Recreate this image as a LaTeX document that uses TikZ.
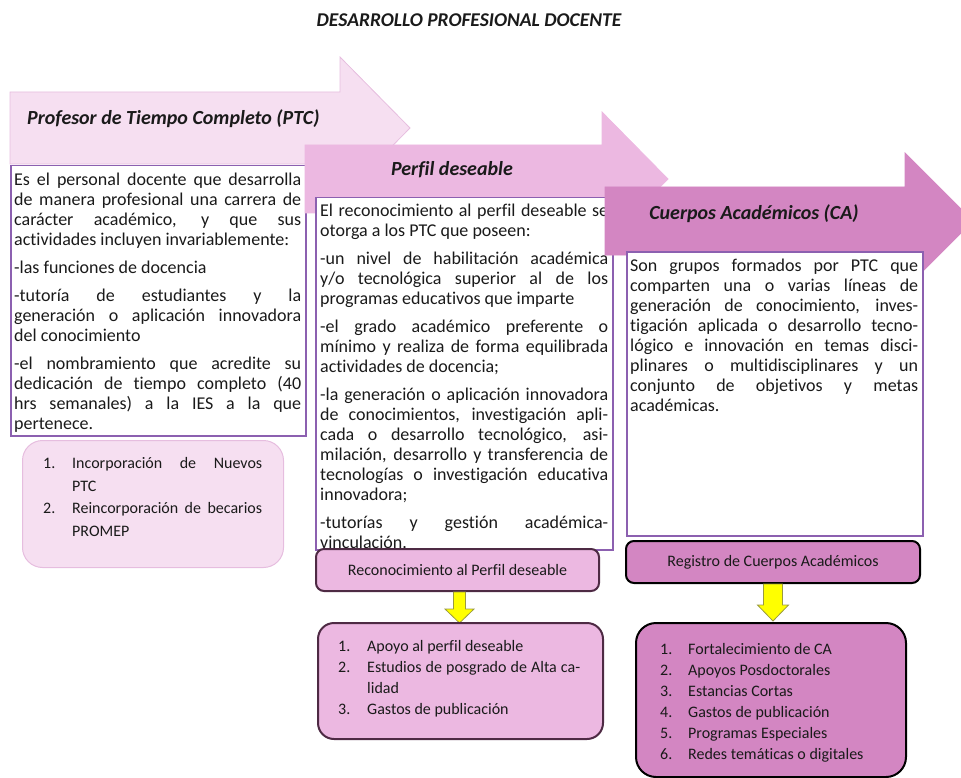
\documentclass[tikz,border=0pt]{standalone}
\usepackage{fontspec}
\setmainfont{Carlito}[RawFeature={-liga;-clig;-calt;-dlig}]
\usetikzlibrary{calc}
\definecolor{pinkA}{HTML}{F6DFF1}
\definecolor{pinkAb}{HTML}{E6BDDF}
\definecolor{pinkB}{HTML}{ECB8E1}
\definecolor{pinkC}{HTML}{D386C2}
\definecolor{boxline}{HTML}{8C60B0}
\definecolor{plum}{HTML}{4E2A44}
\definecolor{ylw}{HTML}{FFFF00}
\definecolor{ylwb}{HTML}{9A9A40}
\definecolor{txt}{HTML}{1A1A1A}
\newcommand\mylitem[2]{\par\hangindent=#1\hangafter=1\noindent\makebox[#1][l]{#2}}
\begin{document}
\begin{tikzpicture}[x=1pt,y=-1pt,
  hdr/.style={font=\fontsize{20pt}{24pt}\selectfont\bfseries\itshape, text=txt, inner sep=0pt},
  frame/.style={draw=boxline, line width=1.5pt, fill=white, inner sep=0pt, anchor=north west},
  body/.style={text width=#1, align=justify, inner sep=0pt, anchor=north west, text=txt,
    font=\fontsize{18pt}{20pt}\selectfont,
    execute at begin node={\setlength{\parskip}{8pt}\setlength{\parindent}{0pt}\tolerance=10000\hbadness=10000\hyphenpenalty=10000}},
  listtext/.style={text width=#1, align=justify, inner sep=0pt, anchor=north west, text=txt,
    font=\fontsize{16pt}{21pt}\selectfont,
    execute at begin node={\setlength{\parskip}{0pt}\setlength{\parindent}{0pt}\tolerance=10000\hbadness=10000\hyphenpenalty=10000}},
  bigarrow/.style={line width=0.8pt},
  smallbox/.style={rounded corners=8pt, line width=2pt, inner sep=0pt, anchor=north west, text=txt, font=\fontsize{16pt}{19pt}\selectfont},
  listbox/.style={line width=2pt, inner sep=0pt, anchor=north west},
  yarrow/.style={fill=ylw, draw=ylwb, line width=0.8pt}
]
\useasboundingbox (0,0) rectangle (961,778);

% title
\node[font=\fontsize{19.5pt}{24pt}\selectfont\bfseries\itshape, text=txt, inner sep=0pt] (title) at (469,20) {DESARROLLO PROFESIONAL DOCENTE};

% arrow 1
\draw[bigarrow, fill=pinkA, draw=pinkAb] (10,92) -- (340,92) -- (340,57) -- (410,128) -- (340,199) -- (340,164) -- (10,164) -- cycle;
\node[hdr, anchor=west] (h1) at (27,119) {Profesor de Tiempo Completo (PTC)};

% box 1
\node[frame, minimum width=295pt, minimum height=270pt] (b1) at (10,165) {};
\node[body=287pt] (t1) at (14,173) {Es el personal docente que desarrolla\linebreak de manera profesional una carrera de\linebreak carácter académico, y que sus\linebreak actividades incluyen invariablemente:\par
-las funciones de docencia\par
-tutoría de estudiantes y la\linebreak generación o aplicación innovadora\linebreak del conocimiento\par
-el nombramiento que acredite su\linebreak dedicación de tiempo completo (40\linebreak hrs semanales) a la IES a la que\linebreak pertenece.\par};

% list 1
\node[listbox, draw=pinkAb, fill=pinkA, line width=1pt, rounded corners=20pt, minimum width=261pt, minimum height=127pt] (l1) at (22,440) {};
\node[listtext=219pt, font=\fontsize{16pt}{22.5pt}\selectfont] (lt1) at (43,446) {\mylitem{29pt}{1.}Incorporación de Nuevos\linebreak PTC\mylitem{29pt}{2.}Reincorporación de becarios\linebreak PROMEP\par};

% arrow 2
\draw[bigarrow, fill=pinkB, draw=pinkB] (305,145) -- (602,145) -- (602,112) -- (668,179) -- (602,246) -- (602,213) -- (305,213) -- cycle;
\node[hdr] (h2) at (452,170) {Perfil deseable};

% box 2
\node[frame, minimum width=297pt, minimum height=352pt] (b2) at (315,197) {};
\node[body=288pt] (t2) at (320,204) {El reconocimiento al perfil deseable se\linebreak otorga a los PTC que poseen:\par
-un nivel de habilitación académica\linebreak y/o tecnológica superior al de los\linebreak programas educativos que imparte\par
-el grado académico preferente o\linebreak mínimo y realiza de forma equilibrada\linebreak actividades de docencia;\par
-la generación o aplicación innovadora\linebreak de conocimientos, investigación apli-\linebreak cada o desarrollo tecnológico, asi-\linebreak milación, desarrollo y transferencia de\linebreak tecnologías o investigación educativa\linebreak innovadora;\par
-tutorías y gestión académica-\linebreak vinculación.\par};

% arrow 3
\draw[bigarrow, fill=pinkC, draw=pinkC] (605,187) -- (905,187) -- (905,153) -- (973,221) -- (905,289) -- (905,255) -- (605,255) -- cycle;
\node[hdr] (h3) at (754,214) {Cuerpos Académicos (CA)};

% box 3
\node[frame, minimum width=296pt, minimum height=284pt] (b3) at (626,251) {};
\node[body=288pt] (t3) at (630,259) {Son grupos formados por PTC que\linebreak comparten una o varias líneas de\linebreak generación de conocimiento, inves-\linebreak tigación aplicada o desarrollo tecno-\linebreak lógico e innovación en temas disci-\linebreak plinares o multidisciplinares y un\linebreak conjunto de objetivos y metas\linebreak académicas.\par};

% reconocimiento
\node[smallbox, draw=plum, fill=pinkB, minimum width=283pt, minimum height=42pt] (reco) at (315,548) {Reconocimiento al Perfil deseable};
\draw[yarrow] ($(reco.south)+(-4,0)$) -- ++(12,0) -- ++(0,17) -- ++(8.5,0) -- ++(-14.5,14) -- ++(-14.5,-14) -- ++(8.5,0) -- cycle;
\node[listbox, draw=plum, fill=pinkB, rounded corners=16pt, minimum width=285pt, minimum height=116pt] (l2) at (317,622) {};
\node[listtext=242pt] (lt2) at (338,630) {\mylitem{29pt}{1.}Apoyo al perfil deseable\mylitem{29pt}{2.}Estudios de posgrado de Alta ca-\linebreak lidad\mylitem{29pt}{3.}Gastos de publicación\par};

% registro
\node[smallbox, draw=black, fill=pinkC, minimum width=294pt, minimum height=42pt] (reg) at (625,540) {Registro de Cuerpos Académicos};
\draw[yarrow] ($(reg.south)+(-9.5,0)$) -- ++(19,0) -- ++(0,21) -- ++(6,0) -- ++(-15.5,16) -- ++(-15.5,-16) -- ++(6,0) -- cycle;
\node[listbox, draw=black, fill=pinkC, rounded corners=20pt, minimum width=270pt, minimum height=154pt] (l3) at (635,622) {};
\node[listtext=240pt] (lt3) at (660,633) {\mylitem{28pt}{1.}Fortalecimiento de CA\mylitem{28pt}{2.}Apoyos Posdoctorales\mylitem{28pt}{3.}Estancias Cortas\mylitem{28pt}{4.}Gastos de publicación\mylitem{28pt}{5.}Programas Especiales\mylitem{28pt}{6.}Redes temáticas o digitales\par};
\end{tikzpicture}
\end{document}
